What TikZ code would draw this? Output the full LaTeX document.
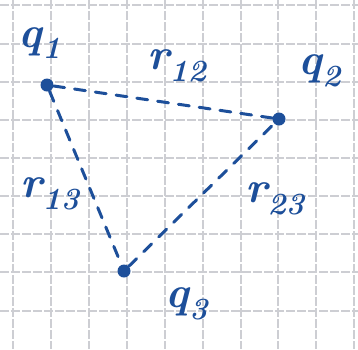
\documentclass[tikz,border=0pt]{standalone}
\usepackage{xcolor}
\usepackage{tikz}
\usepackage{amsmath}
\usetikzlibrary{arrows.meta, positioning, calc}
\definecolor{ink}{HTML}{1D4F9A}
\definecolor{gridgray}{HTML}{CDCED3}

\tikzset{
  ladung/.style={circle, fill=ink, inner sep=0pt, minimum size=13pt},
  abstand/.style={draw=ink, line width=3pt, dash pattern=on 11pt off 10pt, line cap=round},
  beschr/.style={text=ink, inner sep=0pt, font=\fontsize{44}{48}\selectfont\bfseries\itshape}
}

\begin{document}
\begin{tikzpicture}[x=1pt, y=-1pt]
  \useasboundingbox (0,0) rectangle (358,349);
  \fill[white] (0,0) rectangle (358,349);

  % Kariertes Papier
  \foreach \gx in {13,51,89,127,165,203,241,278,316,354}
    \draw[gridgray, line width=1.4pt, dash pattern=on 9pt off 2pt] (\gx,0) -- (\gx,349);
  \foreach \gy in {5,44,82,120,158,196,234,272,311}
    \draw[gridgray, line width=1.4pt, dash pattern=on 9pt off 2pt] (0,\gy) -- (358,\gy);

  % Ladungen
  \node[ladung] (q1) at (47,85) {};
  \node[ladung] (q2) at (279,119) {};
  \node[ladung] (q3) at (124,271) {};

  % Abstaende
  \draw[abstand] (q2) -- (q1);
  \draw[abstand] (q1) -- (q3);
  \draw[abstand] (q3) -- (q2);

  % Beschriftung
  \node[beschr] (lq1) at (40,43) {q\textsubscript{1}};
  \node[beschr] (lq2) at (320,71) {q\textsubscript{2}};
  \node[beschr] (lq3) at (187,304) {q\textsubscript{3}};
  \node[beschr] (lr12) at (177,66) {r\textsubscript{12}};
  \node[beschr] (lr13) at (50,194) {r\textsubscript{13}};
  \node[beschr] (lr23) at (275,199) {r\textsubscript{23}};
\end{tikzpicture}
\end{document}
